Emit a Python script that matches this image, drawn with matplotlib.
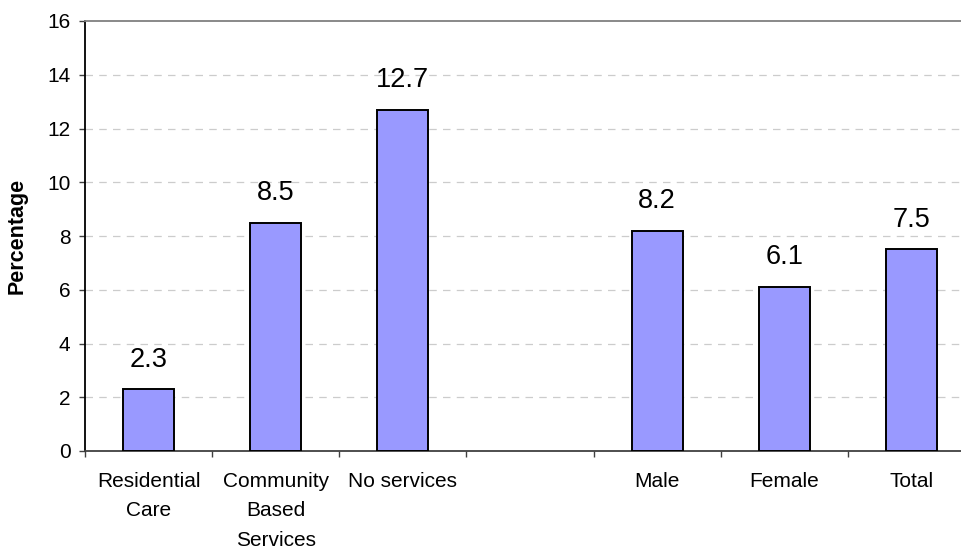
import numpy as np
import matplotlib.pyplot as plt

plt.rcParams['font.family'] = ['Liberation Sans', 'DejaVu Sans']

categories = ["Residential\nCare", "Community\nBased\nServices", "No services", "", "Male", "Female", "Total"]
values = [2.3, 8.5, 12.7, None, 8.2, 6.1, 7.5]
yticks = [0, 2, 4, 6, 8, 10, 12, 14, 16]

fig = plt.figure(figsize=(9.62, 5.49), dpi=100)
# axes runs a little past the right edge of the figure
ax = fig.add_axes([85/962, 1 - 451/549, 890/962, 430/549])

x = np.arange(len(categories))
for xi, v in zip(x, values):
    if v is None:
        continue
    ax.bar(xi, v, width=0.4, color="#9999ff", edgecolor="black", linewidth=1.4, zorder=3)
    ax.annotate(f"{v:.1f}", (xi, v), xytext=(0, 12), textcoords="offset points",
                ha="center", va="bottom", fontsize=19.5)

ax.set_xlim(-0.5, len(categories) - 0.5)
ax.set_ylim(0, 16)
ax.set_yticks(yticks)
ax.tick_params(axis="y", labelsize=15, length=4.5, width=1, color="#404040", pad=6)
ax.set_xticks(x)
ax.set_xticklabels(categories, fontsize=15, linespacing=1.7)
ax.set_xticks(np.arange(-0.5, len(categories), 1), minor=True)
ax.tick_params(axis="x", which="major", length=0, pad=15)
ax.tick_params(axis="x", which="minor", length=4, width=1, color="#404040")

for g in yticks[1:-1]:
    ax.axhline(g, color="#cccccc", linewidth=0.9, dashes=(6, 5), zorder=1)

ax.spines["left"].set_color("black")
ax.spines["left"].set_linewidth(1.3)
ax.spines["bottom"].set_color("#404040")
ax.spines["bottom"].set_linewidth(1.3)
ax.spines["top"].set_color("#808080")
ax.spines["top"].set_linewidth(1.3)
ax.spines["right"].set_visible(False)

ax.set_ylabel("Percentage", fontsize=15.5, fontweight="bold")
ax.yaxis.set_label_coords(-57/890, 0.5)

fig.savefig("out.png", dpi=100)
